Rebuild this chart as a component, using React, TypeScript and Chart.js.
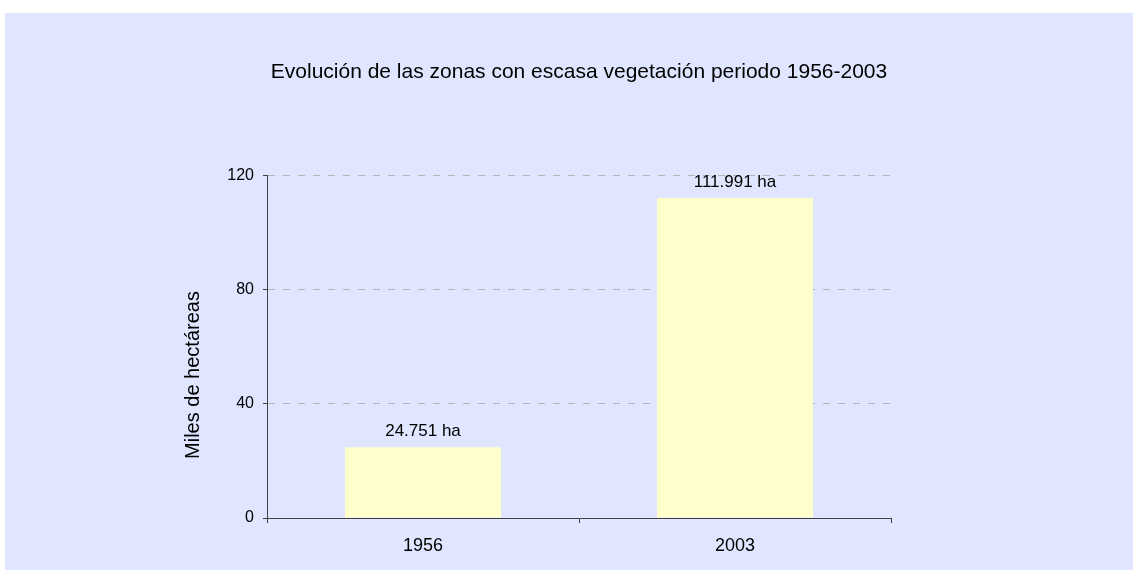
import React, { useEffect, useRef } from "react";
import { Chart, registerables } from "chart.js";

Chart.register(...registerables);

const categories = ["1956", "2003"];
const values = [24.751, 111.991];
const valueLabels = ["24.751 ha", "111.991 ha"];
const yTicks = [0, 40, 80, 120];
const titleText = "Evolución de las zonas con escasa vegetación periodo 1956-2003";
const yAxisTitle = "Miles de hectáreas";

const FONT = "'Liberation Sans', Arial, sans-serif";

const valueLabelPlugin = {
  id: "valueLabels",
  afterDatasetsDraw(chart: any) {
    const meta = chart.getDatasetMeta(0);
    const ctx = chart.ctx;
    ctx.save();
    ctx.font = `17px ${FONT}`;
    ctx.fillStyle = "#000000";
    ctx.textAlign = "center";
    ctx.textBaseline = "alphabetic";
    meta.data.forEach((bar: any, i: number) => {
      ctx.fillText(valueLabels[i], bar.x, bar.y - 11);
    });
    ctx.restore();
  },
};

const axisTitlePlugin = {
  id: "yAxisTitle",
  afterDraw(chart: any) {
    const ctx = chart.ctx;
    ctx.save();
    ctx.font = `20px ${FONT}`;
    ctx.fillStyle = "#000000";
    ctx.textAlign = "center";
    ctx.textBaseline = "middle";
    ctx.translate(188, 362);
    ctx.rotate(-Math.PI / 2);
    ctx.fillText(yAxisTitle, 0, 0);
    ctx.restore();
  },
};

export default function App() {
  const ref = useRef<HTMLCanvasElement | null>(null);
  useEffect(() => {
    if (!ref.current) return;
    const chart = new Chart(ref.current, {
      type: "bar",
      data: {
        labels: categories,
        datasets: [
          {
            data: values,
            backgroundColor: "#FFFFCC",
            borderWidth: 0,
            barPercentage: 0.5,
            categoryPercentage: 1,
          },
        ],
      },
      options: {
        animation: false,
        responsive: false,
        maintainAspectRatio: false,
        layout: { padding: { left: 0, right: 242, top: 0, bottom: 0 } },
        plugins: {
          legend: { display: false },
          tooltip: { enabled: false },
          title: {
            display: true,
            text: titleText,
            fullSize: false,
            color: "#000000",
            font: { family: FONT, size: 21, weight: "normal" },
            padding: { top: 47, bottom: 90 },
          },
        },
        scales: {
          x: {
            offset: true,
            grid: {
              offset: true,
              drawOnChartArea: false,
              drawTicks: true,
              tickLength: 5,
              color: "#404040",
            },
            border: { display: true, color: "#404040", width: 1 },
            ticks: {
              color: "#000000",
              font: { family: FONT, size: 18 },
              padding: 12,
            },
            afterFit(scale: any) {
              scale.height = 52;
            },
          },
          y: {
            min: 0,
            max: 120,
            afterBuildTicks(scale: any) {
              scale.ticks = yTicks.map((v) => ({ value: v }));
            },
            grid: {
              color: (c: any) => (c.tick && c.tick.value === 0 ? "rgba(0,0,0,0)" : "#B4B4B4"),
              drawTicks: true,
              tickLength: 4,
              tickColor: "#404040",
              tickBorderDash: [],
            } as any,
            border: { display: true, color: "#404040", width: 1, dash: [7, 8] },
            ticks: {
              color: "#000000",
              font: { family: FONT, size: 16 },
              padding: 9,
            },
            afterFit(scale: any) {
              scale.width = 262;
            },
          },
        },
      },
      plugins: [valueLabelPlugin, axisTitlePlugin],
    });
    return () => chart.destroy();
  }, []);

  return (
    <div
      style={{
        position: "fixed",
        left: 0,
        top: 0,
        width: 1133,
        height: 570,
        background: "#FFFFFF",
        overflow: "hidden",
      }}
    >
      <div
        style={{
          position: "absolute",
          left: 5,
          top: 13,
          width: 1128,
          height: 557,
          background: "#E0E6FF",
        }}
      >
        <canvas ref={ref} width={1128} height={557} style={{ display: "block" }} />
      </div>
    </div>
  );
}
